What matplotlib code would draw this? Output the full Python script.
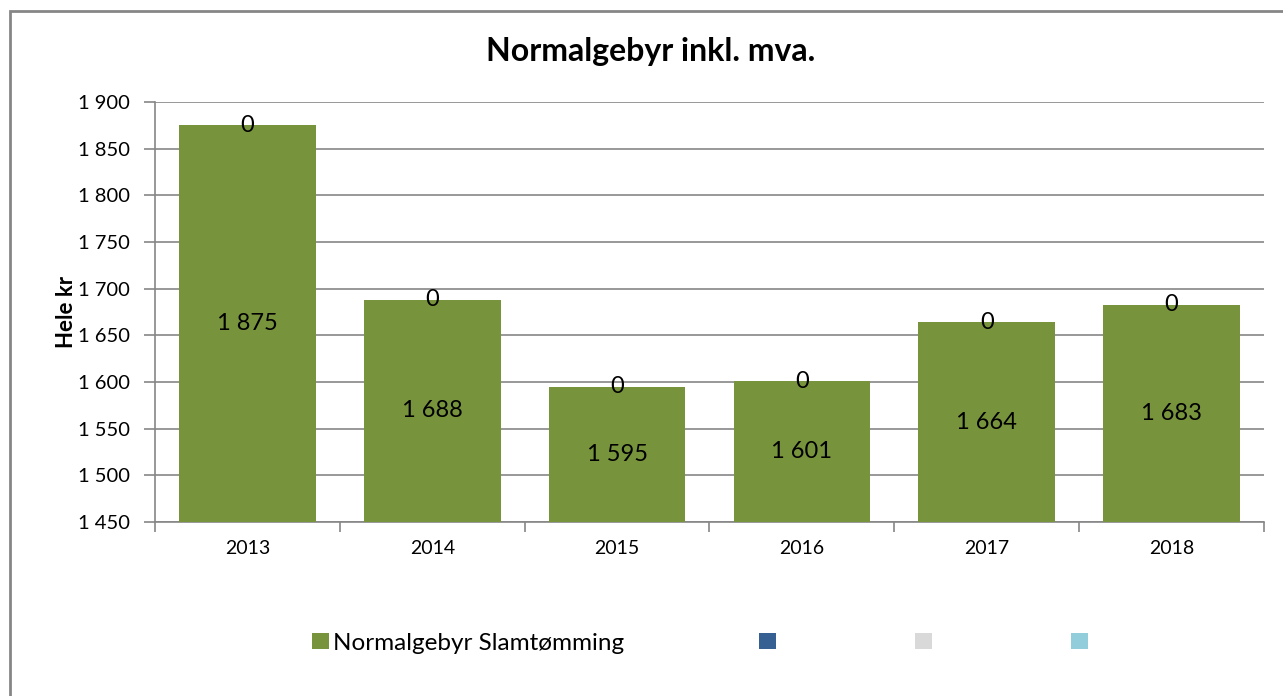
import matplotlib
matplotlib.use("Agg")
import matplotlib.pyplot as plt
from matplotlib.patches import Rectangle, Patch
from matplotlib.ticker import FuncFormatter, MultipleLocator
import numpy as np

years = ["2013", "2014", "2015", "2016", "2017", "2018"]
slamtomming = [1875, 1688, 1595, 1601, 1664, 1683]
series2 = [0, 0, 0, 0, 0, 0]
series3 = [0, 0, 0, 0, 0, 0]
series4 = [0, 0, 0, 0, 0, 0]
series_label = "Normalgebyr Slamtømming"
title = "Normalgebyr inkl. mva."
ylabel = "Hele kr"

GREEN = "#77933c"
BLUE = "#366092"
GRAY = "#d9d9d9"
LBLUE = "#92cddc"
LINE = "#868686"

plt.rcParams['font.family'] = ['Lato', 'DejaVu Sans']

W, H = 1283, 696
fig = plt.figure(figsize=(W / 100, H / 100), dpi=100)
fig.patch.set_facecolor("white")

# outer chart frame
fig.add_artist(Rectangle((10 / W, -0.1), 1.2, (H - 11) / H + 0.1, transform=fig.transFigure,
                         fill=False, edgecolor=LINE, linewidth=2))

left, right, top, bottom = 155, 1264, 102, 522
ax = fig.add_axes([left / W, 1 - bottom / H, (right - left) / W, (bottom - top) / H])

x = np.arange(len(years))
bw = 0.74
ymin = 1450
ax.bar(x, np.array(slamtomming) - ymin, bottom=ymin, width=bw, color=GREEN, zorder=3)
base = np.array(slamtomming)
ax.bar(x, series2, bottom=base, width=bw, color=BLUE, zorder=3)
ax.bar(x, series3, bottom=base + np.array(series2), width=bw, color=GRAY, zorder=3)
ax.bar(x, series4, bottom=base + np.array(series2) + np.array(series3), width=bw, color=LBLUE, zorder=3)

def fmt(v):
    return f"{int(round(v)):,}".replace(",", " ")

for xi, v, z in zip(x, slamtomming, series2):
    ax.text(xi, (ymin + v) / 2, fmt(v), ha="center", va="center", fontsize=17, color="black", zorder=5)
    ax.text(xi, v + z, fmt(z), ha="center", va="center", fontsize=17, color="black", zorder=5)

ax.set_xlim(-0.5, len(years) - 0.5)
ax.set_ylim(1450, 1900)
ax.yaxis.set_major_locator(MultipleLocator(50))
ax.yaxis.set_major_formatter(FuncFormatter(lambda v, p: fmt(v)))
ax.set_xticks(x)
ax.set_xticklabels(years)
ax.set_xticks(np.arange(-0.5, len(years), 1), minor=True)
ax.tick_params(axis="x", which="major", length=0, pad=13, labelsize=14)
ax.tick_params(axis="x", which="minor", length=7, color=LINE, width=1.2, direction="out")
ax.tick_params(axis="y", length=8, color=LINE, width=1.2, labelsize=14.5, pad=10)

ax.grid(axis="y", color=LINE, linewidth=1.2, zorder=0)
ax.set_axisbelow(True)
for s in ["top", "right"]:
    ax.spines[s].set_visible(False)
for s in ["left", "bottom"]:
    ax.spines[s].set_color(LINE)
    ax.spines[s].set_linewidth(1.2)

ax.set_ylabel(ylabel, fontsize=16, fontweight="bold")
ax.yaxis.set_label_coords((77 - left) / (right - left), 0.5)
fig.text(651 / W, 1 - 52 / H, title, ha="center", va="center", fontsize=23, fontweight="bold")

handles = [Patch(facecolor=GREEN), Patch(facecolor=BLUE), Patch(facecolor=GRAY), Patch(facecolor=LBLUE)]
labels = [series_label, "", "", ""]
fig.legend(handles, labels, loc="center left", bbox_to_anchor=(312 / W, 1 - 643 / H), ncol=4,
           frameon=False, fontsize=17.5, handlelength=0.68, handleheight=0.68, handletextpad=0.2,
           columnspacing=5.54, borderaxespad=0, borderpad=0)

fig.savefig("out.png", dpi=100, facecolor="white")
